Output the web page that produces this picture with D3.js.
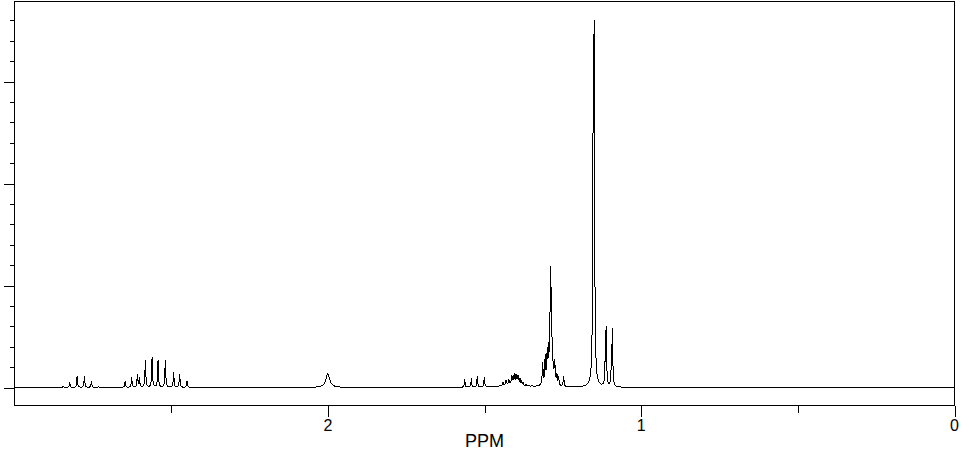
<!DOCTYPE html>
<html>
<head>
<meta charset="utf-8">
<script src="https://cdn.jsdelivr.net/npm/d3@7"></script>
<style>
  html, body { margin: 0; padding: 0; background: #fff; }
  svg { display: block; }
  text { font-family: "Liberation Sans", Arial, sans-serif; fill: #000; }
</style>
</head>
<body>
<script>
// ---------------- DATA ----------------
// chemical shift of each resonance line (ppm)
const peakShift = [
  2.8447, 2.8237, 2.8001, 2.7768, 2.7545, 2.7312,
  2.6471, 2.6260, 2.6078, 2.6015, 2.5823, 2.5610, 2.5419, 2.5186, 2.4921, 2.4730, 2.4494,
  2.0000,
  1.5631, 1.5421, 1.5230, 1.5006,
  1.4251, 1.3964,
  1.4410, 1.4314, 1.4219, 1.4133, 1.4091, 1.4050, 1.3996, 1.3954, 1.3916, 1.3868, 1.3820, 1.3772, 1.3677, 1.3581, 1.3485,
  1.2943,
  1.3144, 1.3062, 1.2998, 1.2953, 1.2896, 1.2864, 1.2826, 1.2775, 1.2743, 1.2689, 1.2634, 1.2475,
  1.1500, 1.1532,
  1.1149, 1.1117, 1.0951, 1.0919
];
// intensity of each line (arbitrary units)
const peakHeight = [
  1.5, 4.6, 10.8, 10.8, 5.9, 1.0,
  5.6, 9.8, 12.5, 9, 26.5, 29, 26.5, 26.5, 14, 12.5, 6.2,
  13.5,
  7.5, 7.5, 10.5, 10,
  2.8, 3.6,
  2.5, 3.5, 3.5, 7, 5, 9, 7.5, 5, 6.5, 5, 3, 2.5, 1.5, 1.0, 0.8,
  6,
  21, 25, 27, 26, 97, 72, 17, 16, 13, 9, 7, 9.5,
  317, 215,
  18, 56, 15.5, 55
];
// half-width at half-height of each line (ppm)
const peakWidth = [
  0.0015, 0.0015, 0.0015, 0.0015, 0.0015, 0.0015,
  0.0015, 0.0015, 0.0015, 0.0015, 0.0015, 0.0015, 0.0015, 0.0015, 0.0015, 0.0015, 0.0015,
  0.0073,
  0.0015, 0.0015, 0.0015, 0.0015,
  0.0223, 0.0159,
  0.0012, 0.0012, 0.0012, 0.0012, 0.0012, 0.0012, 0.0012, 0.0012, 0.0012, 0.0012, 0.0012, 0.0012, 0.0012, 0.0012, 0.0012,
  0.0128,
  0.0015, 0.0015, 0.0015, 0.0015, 0.0015, 0.0015, 0.0015, 0.0015, 0.0015, 0.0015, 0.0015, 0.0015,
  0.0016, 0.0016,
  0.0015, 0.0015, 0.0015, 0.0015
];

const ppmRange = [3, 0];
const xMajorTicks = [2, 1, 0];
const xMajorLabels = ["2", "1", "0"];
const xMinorTicks = [2.5, 1.5, 0.5];
const xTitle = "PPM";
const yTicks = [0, 20, 40, 60, 80, 100, 120, 140, 160, 180, 200, 220, 240, 260, 280, 300, 320, 340, 360];
const yMajorTicks = [0, 100, 200, 300];

// ---------------- LAYOUT ----------------
const W = 969, H = 452;
const pLeft = 14.5, pRight = 954.5, pTop = 1.5, pBottom = 405.5;

const svg = d3.select("body").append("svg").attr("width", W).attr("height", H);

const x = d3.scaleLinear().domain(ppmRange).range([pLeft, pRight]);
const y = d3.scaleLinear().domain([0, 100]).range([387.5, 285.5]);

// spectrum: sum of Lorentzian lines, sampled along the ppm axis
const step = 0.0008;
let grid = d3.range(ppmRange[1], ppmRange[0] + step / 2, step).concat(peakShift);
grid.sort((a, b) => a - b);
const spectrum = grid.map(p => {
  let s = 0;
  for (let i = 0; i < peakShift.length; i++) {
    const d = (p - peakShift[i]) / peakWidth[i];
    s += peakHeight[i] / (1 + d * d);
  }
  return [p, s];
});

svg.append("clipPath").attr("id", "plotclip")
  .append("rect").attr("x", pLeft).attr("y", pTop).attr("width", pRight - pLeft).attr("height", pBottom - pTop);

svg.append("path")
  .datum(spectrum)
  .attr("clip-path", "url(#plotclip)")
  .attr("fill", "none")
  .attr("stroke", "#000")
  .attr("stroke-width", 1)
  .attr("shape-rendering", "crispEdges")
  .attr("d", d3.line().x(d => x(d[0])).y(d => y(d[1])));

// frame
svg.append("rect")
  .attr("x", pLeft).attr("y", pTop).attr("width", pRight - pLeft).attr("height", pBottom - pTop)
  .attr("fill", "none").attr("stroke", "#000").attr("stroke-width", 1)
  .attr("shape-rendering", "crispEdges");

// y axis (ticks only)
const yAxis = svg.append("g")
  .attr("transform", `translate(${pLeft},0)`)
  .call(d3.axisLeft(y).tickValues(yTicks).tickSize(5).tickFormat(""));
yAxis.select(".domain").remove();
yAxis.selectAll(".tick line")
  .attr("stroke", "#000")
  .attr("shape-rendering", "crispEdges")
  .attr("x2", d => yMajorTicks.includes(d) ? -11 : -5);

// x axis ticks
const xAxis = svg.append("g")
  .attr("transform", `translate(0,${pBottom})`)
  .call(d3.axisBottom(x).tickValues(xMajorTicks.concat(xMinorTicks)).tickSize(7).tickFormat(""));
xAxis.select(".domain").remove();
xAxis.selectAll(".tick line")
  .attr("stroke", "#000")
  .attr("shape-rendering", "crispEdges")
  .attr("y2", d => xMajorTicks.includes(d) ? 11 : 7);

// x tick labels
svg.append("g").selectAll("text")
  .data(xMajorTicks)
  .join("text")
  .attr("x", d => x(d))
  .attr("y", 431)
  .attr("text-anchor", "middle")
  .attr("font-size", 16)
  .text((d, i) => xMajorLabels[i]);

// x title
svg.append("text")
  .attr("x", x(1.5))
  .attr("y", 447)
  .attr("text-anchor", "middle")
  .attr("font-size", 18)
  .text(xTitle);
</script>
</body>
</html>
